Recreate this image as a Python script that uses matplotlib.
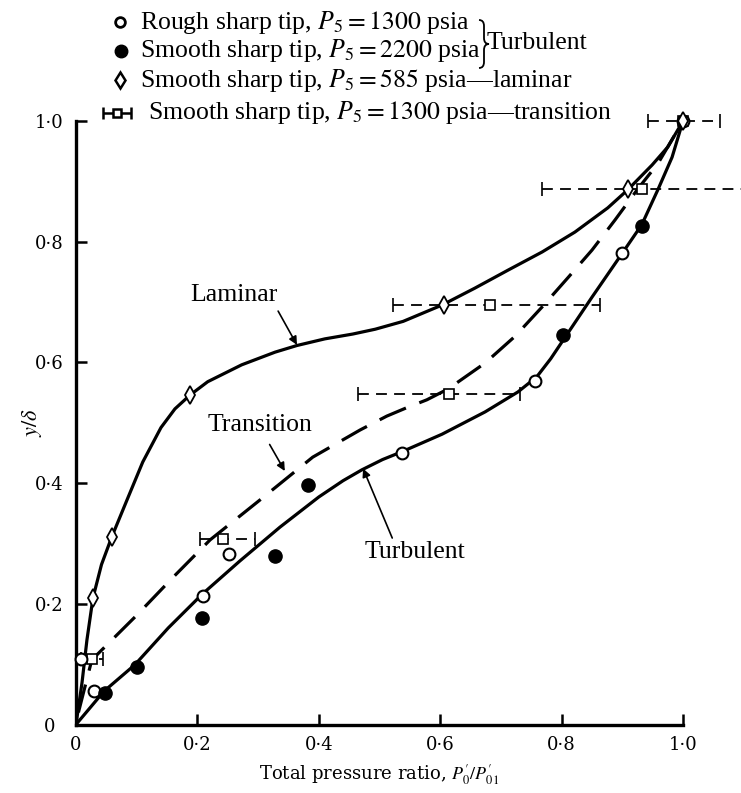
"""
Velocity profile chart: y/delta versus total pressure ratio.
"""

import matplotlib

matplotlib.use("Agg")
import matplotlib.pyplot as plt
from matplotlib.path import Path
from matplotlib.patches import PathPatch

# smooth curves
LAMINAR_X = [0.0, 0.01, 0.018, 0.028, 0.042, 0.059, 0.084, 0.11, 0.14, 0.163,
             0.188, 0.217, 0.273, 0.328, 0.364, 0.41, 0.456, 0.493, 0.539,
             0.603, 0.657, 0.712, 0.768, 0.822, 0.876, 0.909, 0.949, 0.975, 1.0]
LAMINAR_Y = [0.0, 0.07, 0.14, 0.21, 0.265, 0.311, 0.372, 0.435, 0.492, 0.523,
             0.546, 0.568, 0.596, 0.617, 0.628, 0.639, 0.647, 0.655, 0.668,
             0.695, 0.723, 0.753, 0.783, 0.816, 0.856, 0.886, 0.927, 0.957, 1.0]

TRANSITION_X = [0.004, 0.026, 0.1, 0.16, 0.221, 0.303, 0.39, 0.468, 0.512,
                0.545, 0.578, 0.613, 0.674, 0.723, 0.768, 0.811, 0.85, 0.888,
                0.926, 0.959, 1.0]
TRANSITION_Y = [0.02, 0.107, 0.181, 0.244, 0.306, 0.372, 0.443, 0.488, 0.511,
                0.525, 0.538, 0.556, 0.599, 0.643, 0.692, 0.741, 0.786, 0.836,
                0.888, 0.930, 1.0]

TURBULENT_X = [0.0, 0.046, 0.097, 0.152, 0.208, 0.27, 0.336, 0.40, 0.44,
               0.471, 0.505, 0.537, 0.603, 0.674, 0.728, 0.759, 0.782, 0.806,
               0.85, 0.9, 0.932, 0.959, 0.982, 1.0]
TURBULENT_Y = [0.0, 0.055, 0.099, 0.16, 0.216, 0.271, 0.327, 0.377, 0.404,
               0.422, 0.439, 0.452, 0.481, 0.518, 0.551, 0.576, 0.606, 0.642,
               0.708, 0.781, 0.828, 0.887, 0.940, 1.0]

# measured points
ROUGH_X = [0.009, 0.03, 0.21, 0.252, 0.537, 0.757, 0.900, 1.0]
ROUGH_Y = [0.109, 0.055, 0.213, 0.283, 0.450, 0.570, 0.781, 1.0]

SMOOTH_X = [0.048, 0.1, 0.207, 0.328, 0.382, 0.803, 0.932]
SMOOTH_Y = [0.052, 0.096, 0.177, 0.280, 0.397, 0.646, 0.826]

LAM_PTS_X = [0.028, 0.059, 0.188, 0.606, 0.909, 1.0]
LAM_PTS_Y = [0.210, 0.311, 0.546, 0.695, 0.887, 1.0]

TRANS_PTS_X = [0.026, 0.242, 0.614, 0.682, 0.932, 1.0]
TRANS_PTS_Y = [0.108, 0.308, 0.547, 0.695, 0.887, 1.0]
TRANS_ERR_LO = [0.018, 0.038, 0.150, 0.160, 0.165, 0.058]
TRANS_ERR_HI = [0.018, 0.053, 0.117, 0.181, 0.166, 0.061]

TICKS = [0.0, 0.2, 0.4, 0.6, 0.8, 1.0]
TICK_LABELS = ["0", "0·2", "0·4", "0·6", "0·8", "1·0"]

W, H = 741, 793


def dashed_errorbar(ax, x, y, xerr, size):
    cont = ax.errorbar(x, y, xerr=xerr, fmt="s", ms=size, mfc="white", mec="k",
                       mew=1.2, ecolor="k", elinewidth=1.3, capsize=5,
                       capthick=1.3, clip_on=False, zorder=5)
    for col in cont[2]:
        col.set_linestyle((0, (6, 4)))
        col.set_clip_on(False)
    for cap in cont[1]:
        cap.set_clip_on(False)
    return cont


def main():
    plt.rcParams["mathtext.fontset"] = "stix"
    fig = plt.figure(figsize=(W / 100, H / 100), dpi=100)
    ax = fig.add_axes([76 / W, 1 - 724.5 / H, 607 / W, 603.5 / H])

    ax.plot(LAMINAR_X, LAMINAR_Y, color="k", lw=2.3, solid_capstyle="round",
            solid_joinstyle="round")
    ax.plot(TRANSITION_X, TRANSITION_Y, color="k", lw=2.3,
            dashes=(9, 4.5), dash_capstyle="butt", dash_joinstyle="round")
    ax.plot(TURBULENT_X, TURBULENT_Y, color="k", lw=2.3, solid_capstyle="round",
            solid_joinstyle="round")

    dashed_errorbar(ax, TRANS_PTS_X, TRANS_PTS_Y, [TRANS_ERR_LO, TRANS_ERR_HI], 6.5)
    ax.plot(ROUGH_X, ROUGH_Y, "o", ms=8.5, mfc="white", mec="k", mew=1.5,
            clip_on=False, zorder=6)
    ax.plot(SMOOTH_X, SMOOTH_Y, "o", ms=9.5, color="k", clip_on=False, zorder=6)
    ax.plot(LAM_PTS_X, LAM_PTS_Y, "d", ms=9, mfc="white", mec="k", mew=1.3,
            clip_on=False, zorder=6)

    arrow = dict(arrowstyle="-|>", color="k", lw=1.2, mutation_scale=12,
                 shrinkA=0, shrinkB=0)
    label_font = dict(family="Liberation Serif", fontsize=18.5)
    ax.text(0.26, 0.712, "Laminar", ha="center", va="center", **label_font)
    ax.annotate("", xy=(0.364, 0.629), xytext=(0.333, 0.685), arrowprops=arrow)
    ax.text(0.303, 0.497, "Transition", ha="center", va="center", **label_font)
    ax.annotate("", xy=(0.344, 0.420), xytext=(0.319, 0.464), arrowprops=arrow)
    ax.text(0.558, 0.286, "Turbulent", ha="center", va="center", **label_font)
    ax.annotate("", xy=(0.473, 0.424), xytext=(0.521, 0.309), arrowprops=arrow)

    ax.set_xlim(0, 1.0)
    ax.set_ylim(0, 1.0)
    for side in ("top", "right"):
        ax.spines[side].set_visible(False)
    for side in ("left", "bottom"):
        ax.spines[side].set_linewidth(2.4)
    ax.set_xticks(TICKS)
    ax.set_yticks(TICKS)
    tick_font = dict(family="DejaVu Serif", fontsize=13)
    ax.set_xticklabels(TICK_LABELS, **tick_font)
    ax.set_yticklabels(TICK_LABELS, **tick_font)
    for lbl in ax.get_yticklabels():
        lbl.set_horizontalalignment("center")
    ax.tick_params(direction="in", length=8, width=1.8)
    ax.tick_params(axis="y", pad=19)
    ax.tick_params(axis="x", pad=8)
    ax.set_xlabel(r"Total pressure ratio, $P_0^{\prime}/P_{01}^{\prime}$",
                  family="DejaVu Serif", fontsize=13, labelpad=6)
    ax.set_ylabel(r"$y/\delta$", fontsize=16)
    ax.yaxis.set_label_coords((44 - 76) / 607, 0.5)

    # legend drawn on an overlay in pixel units
    leg = fig.add_axes([0, 0, 1, 1], zorder=10)
    leg.set_xlim(0, W)
    leg.set_ylim(H, 0)
    leg.axis("off")
    leg.patch.set_alpha(0)
    text_font = dict(family="Liberation Serif", fontsize=18.5, va="center")
    leg.plot(120, 22, "o", ms=7, mfc="white", mec="k", mew=2)
    leg.text(140, 22, r"Rough sharp tip, $P_5 = 1300$ psia", **text_font)
    leg.plot(121, 51, "o", ms=9, color="k")
    leg.text(140, 51, r"Smooth sharp tip, $P_5 = 2200$ psia", **text_font)
    leg.plot(120, 80, "d", ms=8, mfc="white", mec="k", mew=1.8)
    leg.text(140, 80, r"Smooth sharp tip, $P_5 = 585$ psia—laminar", **text_font)
    leg.errorbar(117, 113, xerr=14, fmt="s", ms=6, mfc="white", mec="k",
                 mew=1.8, ecolor="k", elinewidth=1.8, capsize=4, capthick=1.8)
    leg.text(148, 113, r"Smooth sharp tip, $P_5 = 1300$ psia—transition",
             **text_font)
    brace = Path(
        [(479, 20), (484, 20), (484, 26), (484, 38), (484, 44), (489, 44),
         (484, 44), (484, 50), (484, 62), (484, 68), (479, 68)],
        [Path.MOVETO, Path.CURVE3, Path.CURVE3, Path.LINETO, Path.CURVE3,
         Path.CURVE3, Path.CURVE3, Path.CURVE3, Path.LINETO, Path.CURVE3,
         Path.CURVE3],
    )
    leg.add_patch(PathPatch(brace, fill=False, lw=1.3, ec="k"))
    leg.text(487, 43, "Turbulent", **text_font)

    fig.savefig("out.png", dpi=100)


if __name__ == "__main__":
    main()
